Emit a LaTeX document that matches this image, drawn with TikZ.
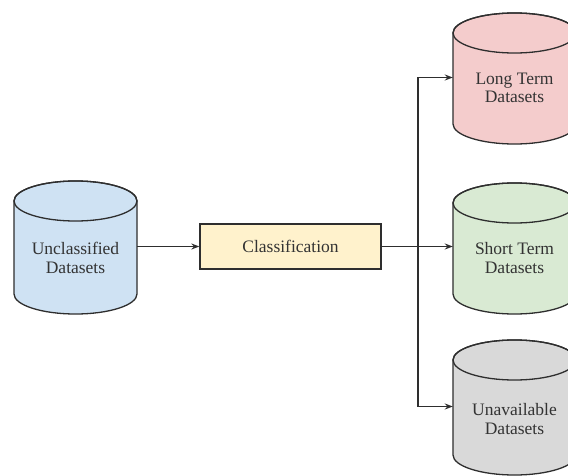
\documentclass[tikz,border=0pt]{standalone}
\usepackage{fontspec}
\setmainfont{Liberation Serif}
\usetikzlibrary{arrows.meta}
\definecolor{cblue}{HTML}{CFE2F3}
\definecolor{cyellow}{HTML}{FFF2CC}
\definecolor{cpink}{HTML}{F4CCCC}
\definecolor{cgreen}{HTML}{D9EAD3}
\definecolor{cgray}{HTML}{D9D9D9}
\definecolor{ink}{HTML}{2E2E2E}
\definecolor{txt}{HTML}{333333}
\newcommand\mycyl[5]{% name, left x, top center y, bottom center y, color
  \pgfmathsetmacro\cx{#2+61.5}
  \pgfmathsetmacro\cy{(#3+#4)/2}
  \filldraw[fill=#5, draw=ink, line width=1.3pt]
    (#2,#3) -- (#2,#4) arc[start angle=180, end angle=360, x radius=61.5pt, y radius=20pt]
    -- (#2+123,#3) arc[start angle=0, end angle=180, x radius=61.5pt, y radius=20pt] -- cycle;
  \draw[draw=ink, line width=1.3pt] (\cx,#3) ellipse[x radius=61.5pt, y radius=20pt];
  \node[inner sep=0pt, minimum width=123pt, minimum height=60pt] (#1) at (\cx,\cy-1) {};
}
\tikzset{
  lbl/.style={align=center, font=\fontsize{17.5}{18.5}\selectfont, text=txt},
  conn/.style={draw=ink, line width=1.3pt},
  arr/.style={conn, -{Stealth[length=8pt,width=6pt]}}
}
\begin{document}
\begin{tikzpicture}[x=1pt,y=-1pt]
\useasboundingbox (0,0) rectangle (568,476);
\clip (0,0) rectangle (568,476);
\fill[white] (0,0) rectangle (568,476);
\mycyl{uc}{14}{201}{294}{cblue}
\mycyl{lt}{453}{33}{124}{cpink}
\mycyl{st}{453}{203}{294}{cgreen}
\mycyl{ua}{453}{360}{455}{cgray}
\node[lbl] (uct) at (75.5,258) {Unclassified\\Datasets};
\node[lbl] (ltt) at (514.5,88) {Long Term\\Datasets};
\node[lbl] (stt) at (514.5,258) {Short Term\\Datasets};
\node[lbl] (uat) at (514.5,419) {Unavailable\\Datasets};
\node[draw=ink, fill=cyellow, line width=1.3pt, minimum width=181pt, minimum height=45pt, inner sep=0pt, font=\fontsize{17.5}{18.5}\selectfont, text=txt] (cls) at (290.5,246.5) {Classification};
\coordinate (j) at (418,246.5);
\draw[arr] (uc.east |- cls.west) -- (cls.west);
\draw[arr] (cls.east) -- (st.west |- cls.east);
\draw[arr] (j) |- (lt.west);
\draw[arr] (j) |- (ua.west);
\end{tikzpicture}
\end{document}
